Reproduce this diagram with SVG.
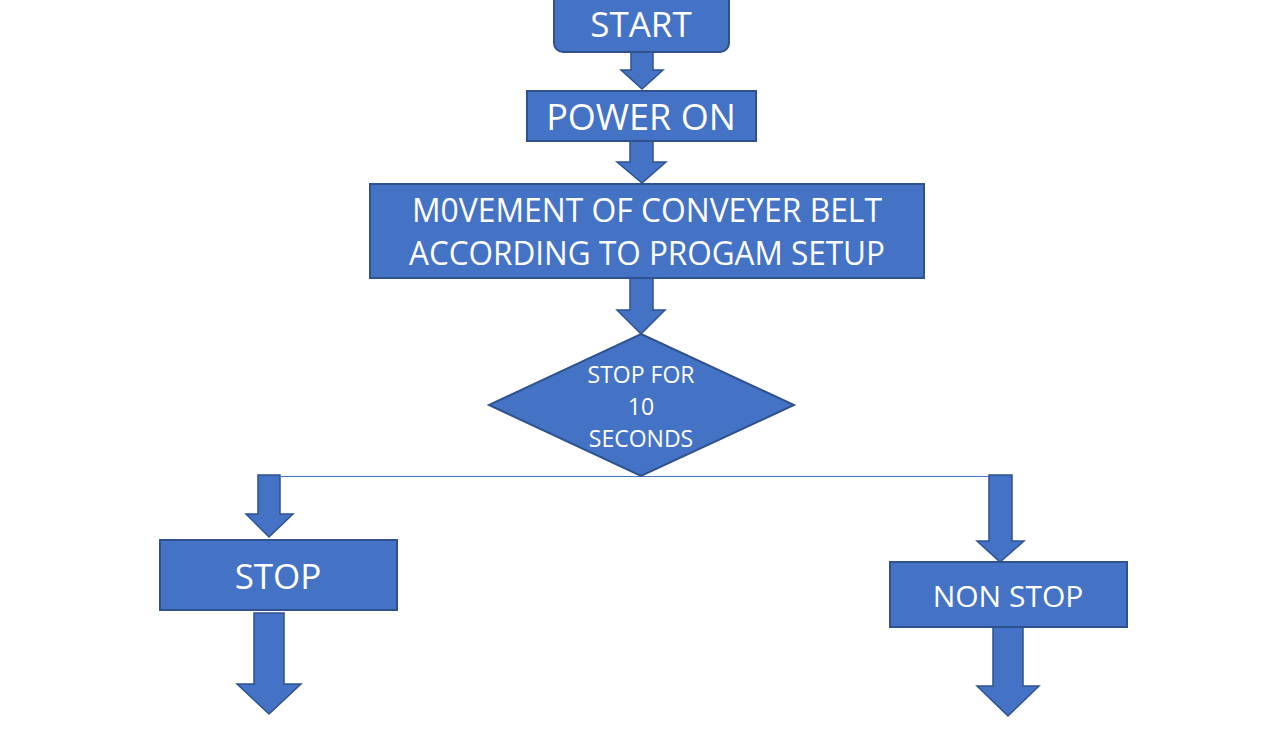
<svg xmlns="http://www.w3.org/2000/svg" width="1284" height="737" viewBox="0 0 1284 737">
<style>
.shape{fill:#4472C4;stroke:#2F528F;stroke-width:2}
.arrow{fill:#4472C4;stroke:#2F528F;stroke-width:1.5;stroke-linejoin:miter}
.t{fill:#FFFFFF;font-family:"Open Sans","Noto Sans",sans-serif;text-anchor:middle}
.conn{stroke:#4472C4;stroke-width:1;fill:none}
</style>
<rect width="1284" height="737" fill="#FFFFFF"/>
<g id="connectors">
<line class="conn" x1="281" y1="476.5" x2="990" y2="476.5"/>
<polygon class="arrow" points="631,52 653,52 653,70 663,70 642,89 621,70 631,70"/>
<polygon class="arrow" points="630,141 653,141 653,162 666,162 642,183 617,162 630,162"/>
<polygon class="arrow" points="630,278 653,278 653,310 665,310 641,334 617,310 630,310"/>
<polygon class="arrow" points="258,475 280,475 280,514 293,514 269,537 246,514 258,514"/>
<polygon class="arrow" points="254,613 284,613 284,684 301,684 269,714 237,684 254,684"/>
<polygon class="arrow" points="989,475 1012,475 1012,541 1024,541 1000,562 977,541 989,541"/>
<polygon class="arrow" points="993,627 1023,627 1023,686 1039,686 1008,716 977,686 993,686"/>
</g>
<g id="start">
<rect class="shape" x="554" y="-10" width="175" height="62" rx="9"/>
<text class="t" x="641" y="37" font-size="35">START</text>
</g>
<g id="power-on">
<rect class="shape" x="527" y="91" width="229" height="50"/>
<text class="t" x="641" y="130" font-size="36">POWER ON</text>
</g>
<g id="movement">
<rect class="shape" x="370" y="184" width="554" height="94"/>
<text class="t" x="647" y="222" font-size="33" textLength="470" lengthAdjust="spacingAndGlyphs">M0VEMENT OF CONVEYER BELT</text>
<text class="t" x="647" y="265" font-size="33" textLength="476" lengthAdjust="spacingAndGlyphs">ACCORDING TO PROGAM SETUP</text>
</g>
<g id="decision">
<polygon class="shape" points="641,334 794,405 641,476 489,405"/>
<text class="t" x="641" y="383" font-size="23">STOP FOR</text>
<text class="t" x="641" y="415" font-size="23">10</text>
<text class="t" x="641" y="447" font-size="23">SECONDS</text>
</g>
<g id="stop">
<rect class="shape" x="160" y="540" width="237" height="70"/>
<text class="t" x="278" y="589" font-size="35">STOP</text>
</g>
<g id="non-stop">
<rect class="shape" x="890" y="562" width="237" height="65"/>
<text class="t" x="1008" y="607" font-size="30">NON STOP</text>
</g>
</svg>
